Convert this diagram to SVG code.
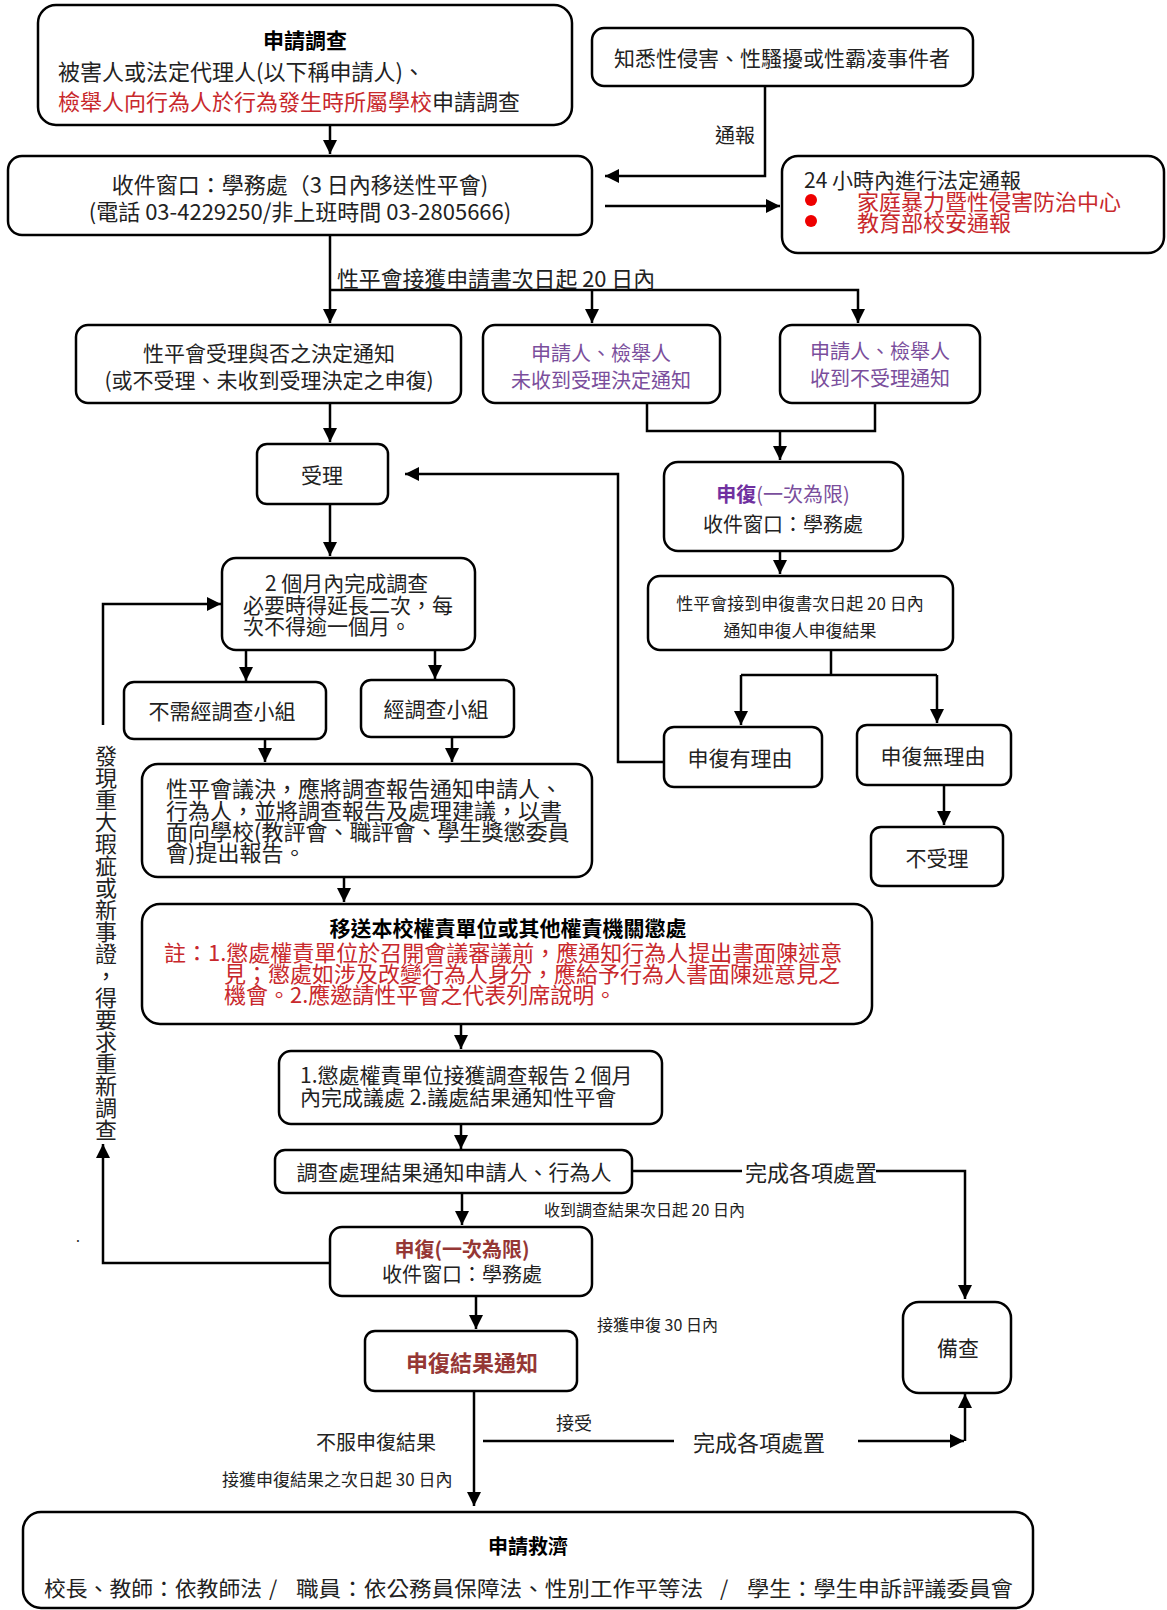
<svg xmlns="http://www.w3.org/2000/svg" width="1167" height="1610" viewBox="0 0 1167 1610">
<defs>
<marker id="ah" markerUnits="userSpaceOnUse" markerWidth="14" markerHeight="16" refX="14" refY="7" orient="auto">
<path d="M0,0 L14,7 L0,14 Z" fill="#000"/>
</marker>
<style>
.bx{fill:#fff;stroke:#000;stroke-width:2.5}
.cn{fill:none;stroke:#000;stroke-width:2.5}
text{font-family:"Noto Sans CJK TC","Noto Sans CJK SC",sans-serif;fill:#222;dominant-baseline:central}
.c{text-anchor:middle}
.b{font-weight:bold;fill:#000}
.red{fill:#c8282c}
.pur{fill:#7a4e9c}
.dred{fill:#953735;font-weight:bold}
</style>
</defs>
<rect width="1167" height="1610" fill="#fff"/>

<g id="connectors">
<path class="cn" d="M330 125 V154" marker-end="url(#ah)"/>
<path class="cn" d="M765 86 V176 H605" marker-end="url(#ah)"/>
<path class="cn" d="M605 206 H780" marker-end="url(#ah)"/>
<path class="cn" d="M330 235 V323" marker-end="url(#ah)"/>
<path class="cn" d="M330 290 H858 V323" marker-end="url(#ah)"/>
<path class="cn" d="M592 290 V323" marker-end="url(#ah)"/>
<path class="cn" d="M330 403 V442" marker-end="url(#ah)"/>
<path class="cn" d="M647 403 V431 H875 V403"/>
<path class="cn" d="M780 431 V460" marker-end="url(#ah)"/>
<path class="cn" d="M780 551 V574" marker-end="url(#ah)"/>
<path class="cn" d="M831 650 V675 M741 675 H937"/>
<path class="cn" d="M741 675 V725" marker-end="url(#ah)"/>
<path class="cn" d="M937 675 V723" marker-end="url(#ah)"/>
<path class="cn" d="M944 785 V825" marker-end="url(#ah)"/>
<path class="cn" d="M664 762 H618 V474 H405" marker-end="url(#ah)"/>
<path class="cn" d="M330 504 V556" marker-end="url(#ah)"/>
<path class="cn" d="M246 650 V681" marker-end="url(#ah)"/>
<path class="cn" d="M435 650 V679" marker-end="url(#ah)"/>
<path class="cn" d="M265 739 V762" marker-end="url(#ah)"/>
<path class="cn" d="M452 737 V762" marker-end="url(#ah)"/>
<path class="cn" d="M344 877 V902" marker-end="url(#ah)"/>
<path class="cn" d="M461 1024 V1049" marker-end="url(#ah)"/>
<path class="cn" d="M461 1124 V1149" marker-end="url(#ah)"/>
<path class="cn" d="M632 1171 H742"/>
<path class="cn" d="M876 1171 H965 V1299" marker-end="url(#ah)"/>
<path class="cn" d="M462 1193 V1225" marker-end="url(#ah)"/>
<path class="cn" d="M476 1296 V1329" marker-end="url(#ah)"/>
<path class="cn" d="M474 1391 V1506" marker-end="url(#ah)"/>
<path class="cn" d="M483 1441 H674"/>
<path class="cn" d="M858 1441 H964" marker-end="url(#ah)"/>
<path class="cn" d="M965 1441 V1394" marker-end="url(#ah)"/>
<path class="cn" d="M330 1263 H103 V1144" marker-end="url(#ah)"/>
<path class="cn" d="M103 725 V604 H221" marker-end="url(#ah)"/>
</g>

<g id="labels">
<text x="735" y="134" class="c" font-size="20">通報</text>
<text x="337" y="277" font-size="22" textLength="318" lengthAdjust="spacingAndGlyphs">性平會接獲申請書次日起 20 日內</text>
<text x="544" y="1209" font-size="16">收到調查結果次日起 20 日內</text>
<text x="811" y="1171" class="c" font-size="22">完成各項處置</text>
<text x="597" y="1324" font-size="16">接獲申復 30 日內</text>
<text x="574" y="1422" class="c" font-size="18">接受</text>
<text x="759" y="1441" class="c" font-size="22">完成各項處置</text>
<text x="376" y="1441" class="c" font-size="20">不服申復結果</text>
<text x="222" y="1478" font-size="17">接獲申復結果之次日起 30 日內</text>
<text x="106" y="745" font-size="22" style="writing-mode:vertical-rl;dominant-baseline:central">發現重大瑕疵或新事證，得要求重新調查</text>
<text x="76" y="1236" font-size="14">.</text>
</g>

<g id="n1">
<rect class="bx" x="38" y="5" width="534" height="120" rx="18"/>
<text x="305" y="39" class="c b" font-size="21">申請調查</text>
<text x="58" y="70" font-size="22">被害人或法定代理人(以下稱申請人)、</text>
<text x="58" y="100" font-size="22"><tspan class="red">檢舉人向行為人於行為發生時所屬學校</tspan>申請調查</text>
</g>

<g id="n2">
<rect class="bx" x="8" y="156" width="584" height="79" rx="14"/>
<text x="300" y="183" class="c" font-size="22">收件窗口：學務處（3 日內移送性平會)</text>
<text x="300" y="210" class="c" font-size="22">(電話 03-4229250/非上班時間 03-2805666)</text>
</g>

<g id="n3">
<rect class="bx" x="592" y="28" width="381" height="58" rx="12"/>
<text x="782" y="57" class="c" font-size="21">知悉性侵害、性騷擾或性霸凌事件者</text>
</g>

<g id="n4">
<rect class="bx" x="782" y="156" width="382" height="97" rx="16"/>
<text x="804" y="179" font-size="21">24 小時內進行法定通報</text>
<circle cx="811" cy="200" r="6" fill="#e00"/>
<circle cx="811" cy="221" r="6" fill="#e00"/>
<text x="857" y="200" font-size="22" class="red">家庭暴力暨性侵害防治中心</text>
<text x="857" y="221" font-size="22" class="red">教育部校安通報</text>
</g>

<g id="n5">
<rect class="bx" x="76" y="325" width="385" height="78" rx="12"/>
<text x="269" y="352" class="c" font-size="21">性平會受理與否之決定通知</text>
<text x="269" y="379" class="c" font-size="21">(或不受理、未收到受理決定之申復)</text>
</g>

<g id="n6">
<rect class="bx" x="483" y="325" width="237" height="78" rx="12"/>
<text x="601" y="352" class="c pur" font-size="20">申請人、檢舉人</text>
<text x="601" y="379" class="c pur" font-size="20">未收到受理決定通知</text>
</g>

<g id="n7">
<rect class="bx" x="780" y="325" width="200" height="78" rx="12"/>
<text x="880" y="350" class="c pur" font-size="20">申請人、檢舉人</text>
<text x="880" y="377" class="c pur" font-size="20">收到不受理通知</text>
</g>

<g id="n8">
<rect class="bx" x="257" y="444" width="131" height="60" rx="10"/>
<text x="322" y="474" class="c" font-size="21">受理</text>
</g>

<g id="n9">
<rect class="bx" x="664" y="462" width="239" height="89" rx="14"/>
<text x="783" y="493" class="c pur" font-size="20"><tspan font-weight="bold" fill="#7030a0">申復</tspan>(一次為限)</text>
<text x="783" y="523" class="c" font-size="20">收件窗口：學務處</text>
</g>

<g id="n10">
<rect class="bx" x="648" y="576" width="305" height="74" rx="12"/>
<text x="800" y="602" class="c" font-size="17">性平會接到申復書次日起 20 日內</text>
<text x="800" y="629" class="c" font-size="17">通知申復人申復結果</text>
</g>

<g id="n11">
<rect class="bx" x="222" y="558" width="253" height="92" rx="14"/>
<text x="265" y="582" font-size="21">2 個月內完成調查</text>
<text x="243" y="604" font-size="21">必要時得延長二次，每</text>
<text x="243" y="625" font-size="21">次不得逾一個月。</text>
</g>

<g id="n12">
<rect class="bx" x="664" y="727" width="158" height="60" rx="10"/>
<text x="740" y="757" class="c" font-size="21">申復有理由</text>
</g>

<g id="n13">
<rect class="bx" x="857" y="725" width="154" height="60" rx="10"/>
<text x="933" y="755" class="c" font-size="21">申復無理由</text>
</g>

<g id="n14">
<rect class="bx" x="871" y="827" width="132" height="59" rx="10"/>
<text x="937" y="857" class="c" font-size="21">不受理</text>
</g>

<g id="n15">
<rect class="bx" x="124" y="682" width="202" height="57" rx="10"/>
<text x="222" y="710" class="c" font-size="21">不需經調查小組</text>
</g>

<g id="n16">
<rect class="bx" x="361" y="680" width="153" height="57" rx="10"/>
<text x="436" y="708" class="c" font-size="21">經調查小組</text>
</g>

<g id="n17">
<rect class="bx" x="142" y="764" width="450" height="113" rx="16"/>
<text x="166" y="787" font-size="22">性平會議決，應將調查報告通知申請人、</text>
<text x="166" y="809" font-size="22">行為人，並將調查報告及處理建議，以書</text>
<text x="166" y="830" font-size="22">面向學校(教評會、職評會、學生獎懲委員</text>
<text x="166" y="851" font-size="22">會)提出報告。</text>
</g>

<g id="n18">
<rect class="bx" x="142" y="904" width="730" height="120" rx="18"/>
<text x="508" y="927" class="c b" font-size="21">移送本校權責單位或其他權責機關懲處</text>
<text x="164" y="951" font-size="22" class="red">註：1.懲處權責單位於召開會議審議前，應通知行為人提出書面陳述意</text>
<text x="224" y="972" font-size="22" class="red">見；懲處如涉及改變行為人身分，應給予行為人書面陳述意見之</text>
<text x="224" y="993" font-size="22" class="red">機會。2.應邀請性平會之代表列席說明。</text>
</g>

<g id="n19">
<rect class="bx" x="279" y="1051" width="383" height="73" rx="12"/>
<text x="300" y="1074" font-size="21">1.懲處權責單位接獲調查報告 2 個月</text>
<text x="300" y="1096" font-size="21">內完成議處 2.議處結果通知性平會</text>
</g>

<g id="n20">
<rect class="bx" x="275" y="1150" width="357" height="43" rx="10"/>
<text x="454" y="1171" class="c" font-size="21">調查處理結果通知申請人、行為人</text>
</g>

<g id="n21">
<rect class="bx" x="330" y="1227" width="262" height="69" rx="12"/>
<text x="462" y="1248" class="c dred" font-size="20">申復(一次為限)</text>
<text x="462" y="1273" class="c" font-size="20">收件窗口：學務處</text>
</g>

<g id="n22">
<rect class="bx" x="365" y="1331" width="212" height="60" rx="10"/>
<text x="472" y="1361" class="c dred" font-size="22">申復結果通知</text>
</g>

<g id="n23">
<rect class="bx" x="903" y="1302" width="108" height="91" rx="16"/>
<text x="958" y="1347" class="c" font-size="21">備查</text>
</g>

<g id="n24">
<rect class="bx" x="23" y="1512" width="1010" height="96" rx="18"/>
<text x="528" y="1545" class="c b" font-size="20">申請救濟</text>
<text x="44" y="1587" font-size="21" textLength="218" lengthAdjust="spacingAndGlyphs">校長、教師：依教師法</text>
<text x="273" y="1587" font-size="21" class="c">/</text>
<text x="296" y="1587" font-size="21" textLength="407" lengthAdjust="spacingAndGlyphs">職員：依公務員保障法、性別工作平等法</text>
<text x="724" y="1587" font-size="21" class="c">/</text>
<text x="747" y="1587" font-size="21" textLength="266" lengthAdjust="spacingAndGlyphs">學生：學生申訴評議委員會</text>
</g>
</svg>
